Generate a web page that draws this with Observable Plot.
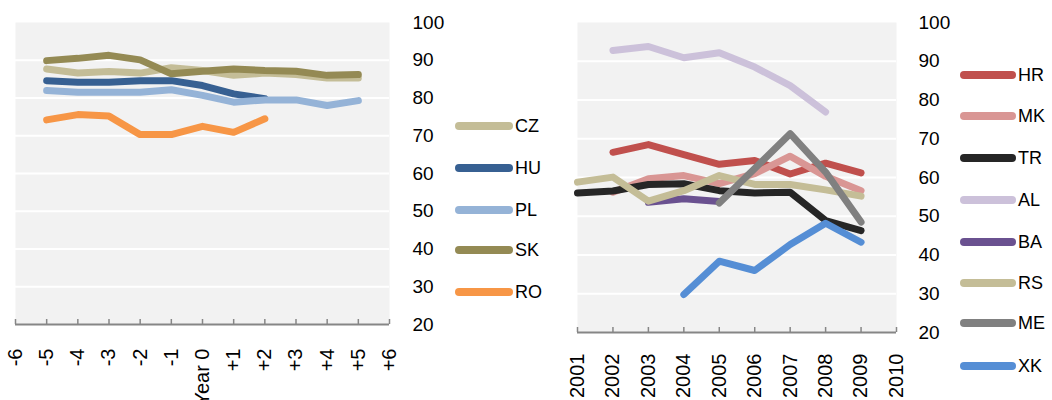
<!DOCTYPE html>
<html><head><meta charset="utf-8">
<script src="https://cdn.jsdelivr.net/npm/d3@7"></script>
<script src="https://cdn.jsdelivr.net/npm/@observablehq/plot@0.6"></script>
<style>
body{margin:0;background:#fff;font-family:"Liberation Sans",Arial,sans-serif;}
#wrap{position:relative;width:1052px;height:400px;overflow:hidden;}
.panel{position:absolute;top:0;}
.leg{position:absolute;font-size:18px;color:#000;height:20px;line-height:20px;white-space:nowrap;}
.leg svg{position:absolute;left:0;top:0;}
.leg span{position:absolute;top:0;}
</style></head><body><div id="wrap"></div>
<script>
// ---------- Left panel data ----------
const relYears = [-5, -4, -3, -2, -1, 0, 1, 2, 3, 4, 5];
const xTicksL = [-6, -5, -4, -3, -2, -1, 0, 1, 2, 3, 4, 5, 6];
const xTickLabelsL = ["-6", "-5", "-4", "-3", "-2", "-1", "Year 0", "+1", "+2", "+3", "+4", "+5", "+6"];
const seriesL = ["CZ", "HU", "PL", "SK", "RO"];
const colorsL = ["#c4bd97", "#376092", "#95b3d7", "#948a54", "#f79646"];
const CZ = [87.7, 86.6, 87.0, 86.6, 88.0, 87.3, 86.0, 86.6, 86.2, 85.3, 85.3];
const HU = [84.6, 84.2, 84.2, 84.6, 84.6, 83.3, 81.1, 79.8, null, null, null];
const PL = [82.0, 81.5, 81.5, 81.5, 82.2, 80.7, 78.9, 79.5, 79.5, 78.0, 79.3];
const SK = [89.9, 90.5, 91.3, 90.1, 86.4, 87.1, 87.7, 87.3, 87.1, 86.0, 86.2];
const RO = [74.2, 75.6, 75.2, 70.3, 70.3, 72.5, 70.9, 74.5, null, null, null];
const valuesL = [CZ, HU, PL, SK, RO];

// ---------- Right panel data ----------
const years = [2001, 2002, 2003, 2004, 2005, 2006, 2007, 2008, 2009];
const xTicksR = [2001, 2002, 2003, 2004, 2005, 2006, 2007, 2008, 2009, 2010];
const seriesR = ["HR", "MK", "TR", "AL", "BA", "RS", "ME", "XK"];
const colorsR = ["#c0504d", "#d99694", "#262626", "#ccc1da", "#6a5190", "#c4bd97", "#808080", "#558ed5"];
const HR = [null, 66.5, 68.5, 65.9, 63.4, 64.4, 60.9, 63.7, 61.2];
const MK = [null, 56.2, 59.7, 60.5, 58.4, 61.0, 65.5, 60.3, 56.6];
const TR = [56.0, 56.5, 58.2, 58.4, 56.6, 56.0, 56.2, 48.9, 46.3];
const AL = [null, 92.8, 93.8, 90.9, 92.2, 88.5, 83.7, 76.9, null];
const BA = [null, null, 53.6, 54.5, 53.8, null, null, null, null];
const RS = [58.8, 60.1, 53.9, 56.6, 60.5, 58.2, 58.2, 56.8, 55.2];
const ME = [null, null, null, null, 53.4, 62.3, 71.3, 61.4, 48.5];
const XK = [null, null, null, 29.8, 38.4, 36.0, 42.7, 48.2, 43.3];
const valuesR = [HR, MK, TR, AL, BA, RS, ME, XK];

const yTicks = [20, 30, 40, 50, 60, 70, 80, 90, 100];
const gridTicks = [30, 40, 50, 60, 70, 80, 90];

function toRows(names, vals, xs) {
  const rows = [];
  names.forEach((s, k) => vals[k].forEach((v, i) => { if (v != null) rows.push({series: s, x: xs[i], y: v}); }));
  return rows;
}

function panel({rows, names, colors, xDomain, xTicks, xFmt, width, height, ml, mr, mt, mb, yPad, xPad}) {
  const plotH = height - mt - mb;
  const tickLen = (100 - 20) * 5 / plotH;
  return Plot.plot({
    width, height, marginLeft: ml, marginRight: mr, marginTop: mt, marginBottom: mb,
    style: {fontFamily: "Liberation Sans, Arial, sans-serif", fontSize: "18px", color: "#000", background: "transparent", overflow: "visible"},
    x: {domain: xDomain},
    y: {domain: [20, 100]},
    color: {domain: names, range: colors},
    marks: [
      Plot.frame({fill: "#f2f2f2", stroke: null}),
      Plot.ruleY(gridTicks, {stroke: "#ffffff", strokeWidth: 2}),
      Plot.ruleY([20], {stroke: "#868686", strokeWidth: 2}),
      Plot.ruleX(xTicks, {x: d => d, y1: 20, y2: 20 + tickLen, stroke: "#868686", strokeWidth: 1.5}),
      Plot.line(rows, {x: "x", y: "y", z: "series", stroke: "series", strokeWidth: 7, strokeLinecap: "round", strokeLinejoin: "round"}),
      Plot.axisY(yTicks, {anchor: "right", tickSize: 0, tickPadding: yPad, fontSize: 19, fill: "#000", label: null}),
      Plot.axisX(xTicks, {anchor: "bottom", tickSize: 0, tickPadding: xPad, tickRotate: -90, tickFormat: xFmt, fontSize: 20, fill: "#000", label: null})
    ]
  });
}

const wrap = document.getElementById("wrap");

const labelMapL = new Map(xTicksL.map((d, i) => [d, xTickLabelsL[i]]));
const pA = panel({
  rows: toRows(seriesL, valuesL, relYears), names: seriesL, colors: colorsL,
  xDomain: [-6, 6], xTicks: xTicksL, xFmt: d => labelMapL.get(d),
  width: 455, height: 400, ml: 15, mr: 66, mt: 22, mb: 76, yPad: 23, xPad: 24
});
pA.classList.add("panel"); pA.style.left = "0px";
wrap.appendChild(pA);

const pB = panel({
  rows: toRows(seriesR, valuesR, years), names: seriesR, colors: colorsR,
  xDomain: [2001, 2010], xTicks: xTicksR, xFmt: d => String(d),
  width: 400, height: 400, ml: 17, mr: 64, mt: 22, mb: 68, yPad: 22, xPad: 21
});
pB.classList.add("panel"); pB.style.left = "560px";
wrap.appendChild(pB);

function legend(names, colors, left, tops, swW) {
  names.forEach((n, i) => {
    const div = d3.select(wrap).append("div").attr("class", "leg")
      .style("left", left + "px").style("top", (tops[i] - 10) + "px");
    const svg = div.append("svg").attr("width", swW).attr("height", 20);
    svg.append("line").attr("x1", 4).attr("x2", swW - 4).attr("y1", 10).attr("y2", 10)
      .attr("stroke", colors[i]).attr("stroke-width", 8).attr("stroke-linecap", "round");
    div.append("span").style("left", (swW + 2) + "px").text(n);
  });
}
legend(seriesL, colorsL, 455, [126, 168, 210, 250, 292], 58);
legend(seriesR, colorsR, 960, [75, 116, 158, 200, 242, 283, 323, 366], 56);
</script></body></html>
